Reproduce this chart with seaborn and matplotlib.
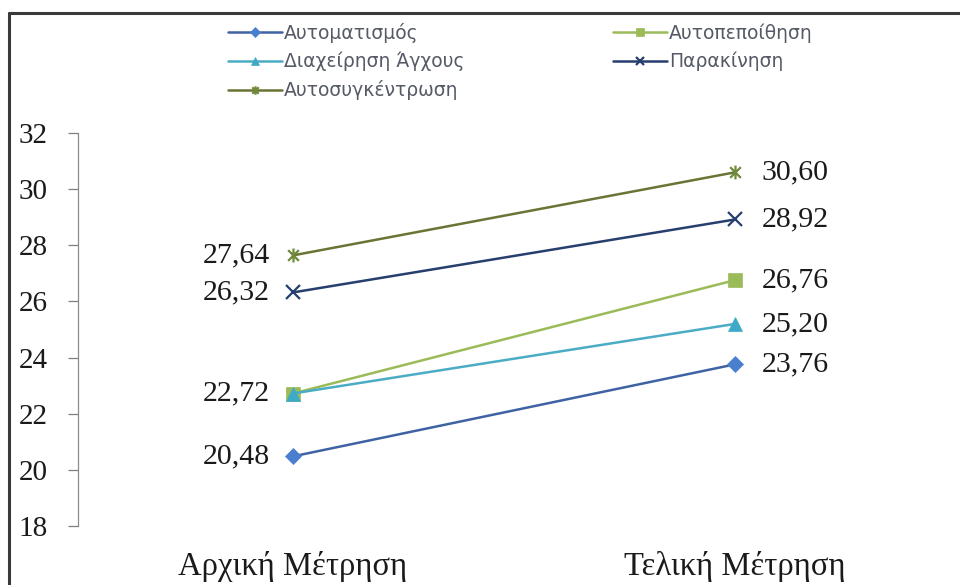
import matplotlib
matplotlib.use("Agg")
import matplotlib.pyplot as plt
import seaborn as sns
import numpy as np
from matplotlib.path import Path
from matplotlib.lines import Line2D

# ---- data ----
categories = ["Αρχική Μέτρηση", "Τελική Μέτρηση"]
series_names = ["Αυτοματισμός", "Αυτοπεποίθηση", "Διαχείρηση Άγχους", "Παρακίνηση", "Αυτοσυγκέντρωση"]
automatismos = [20.48, 23.76]
autopepoithisi = [22.72, 26.76]
diaxeirisi_agxous = [22.72, 25.20]
parakinisi = [26.32, 28.92]
autosygkentrosi = [27.64, 30.60]
y_ticks = [18, 20, 22, 24, 26, 28, 30, 32]
# which start values get a label (22,72 shown once)
left_labelled = [True, True, False, True, True]

series_values = [automatismos, autopepoithisi, diaxeirisi_agxous, parakinisi, autosygkentrosi]

# ---- styles ----
line_colors = ["#3f62a3", "#9bbb59", "#4bacc6", "#263f6e", "#6a7535"]
marker_colors = ["#4a7fd0", "#9bbb59", "#3eaac8", "#263f6e", "#6f8a3a"]
star = Path([(-1, -1), (1, 1), (-1, 1), (1, -1), (0, -1.3), (0, 1.3)],
            [Path.MOVETO, Path.LINETO, Path.MOVETO, Path.LINETO, Path.MOVETO, Path.LINETO])
markers = ["D", "s", "^", "x", star]
msizes = [8.5, 10, 10, 10, 10]

sns.set_style("white")
plt.rcParams["font.family"] = ["DejaVu Sans"]

W, H = 960, 585
fig = plt.figure(figsize=(W / 100, H / 100), dpi=100)
fig.patch.set_facecolor("white")

ax_left, ax_right = 78, 950
ax_top, ax_bot = 133, 526
ax = fig.add_axes([ax_left / W, 1 - ax_bot / H, (ax_right - ax_left) / W, (ax_bot - ax_top) / H])

for name, vals, lc, mc, mk, ms in zip(series_names, series_values, line_colors, marker_colors, markers, msizes):
    unfilled = mk in ("x",) or isinstance(mk, Path)
    sns.lineplot(x=categories, y=vals, ax=ax, color=lc, linewidth=1.8, marker=mk,
                 markersize=ms, markerfacecolor=("none" if unfilled else mc),
                 markeredgecolor=mc, markeredgewidth=(1.6 if unfilled else 0.5),
                 label=name, clip_on=False, sort=False)

serif = ["Liberation Serif", "DejaVu Serif"]
for vals, lab in zip(series_values, left_labelled):
    if lab:
        ax.annotate(f"{vals[0]:.2f}".replace(".", ","), (0, vals[0]), xytext=(-16.5, 0),
                    textcoords="offset points", ha="right", va="center",
                    fontsize=21.5, family=serif, color="#1a1a1a")
    ax.annotate(f"{vals[1]:.2f}".replace(".", ","), (1, vals[1]), xytext=(19, 0),
                textcoords="offset points", ha="left", va="center",
                fontsize=21.5, family=serif, color="#1a1a1a")

ax.set_xlim(-0.486, 1.486)
ax.set_ylim(18, 32)
ax.set_yticks(y_ticks)
ax.set_yticklabels([str(t) for t in y_ticks], family=serif, fontsize=21, color="#1a1a1a")
ax.tick_params(axis="y", length=7.2, width=0.9, color="#7f7f7f", pad=14.5, left=True, direction="out")
ax.tick_params(axis="x", length=0, pad=18)
for lbl in ax.get_xticklabels():
    lbl.set_family(serif)
    lbl.set_fontsize(23.5)
    lbl.set_color("#1a1a1a")
ax.set_xlabel("")
ax.set_ylabel("")
for s in ["top", "right", "bottom"]:
    ax.spines[s].set_visible(False)
ax.spines["left"].set_color("#8c8c8c")
ax.spines["left"].set_linewidth(0.9)
ax.patch.set_alpha(0)

# legend (row-major order like the reference)
handles, labels = ax.get_legend_handles_labels()
order = [0, 2, 4, 1, 3]
ax.legend([handles[i] for i in order], [labels[i] for i in order], ncol=2,
          loc="upper left", bbox_to_anchor=(228 / W, 1 - 23 / H), bbox_transform=fig.transFigure,
          frameon=False, handlelength=2.9, handletextpad=0.1, markerscale=0.6,
          labelspacing=0.47, columnspacing=7.9, borderpad=0, borderaxespad=0,
          prop={"family": "DejaVu Sans", "size": 13.5})
leg = ax.get_legend()
for t in leg.get_texts():
    t.set_color("#555a66")

# outer frame (top and left edges)
fig.add_artist(Line2D([9 / W, 1.0], [1 - 13 / H, 1 - 13 / H], transform=fig.transFigure,
                      color="#3a3a3a", linewidth=2.2))
fig.add_artist(Line2D([9 / W, 9 / W], [0, 1 - 13 / H], transform=fig.transFigure,
                      color="#3a3a3a", linewidth=2.2))

fig.savefig("out.png", dpi=100, facecolor="white")
